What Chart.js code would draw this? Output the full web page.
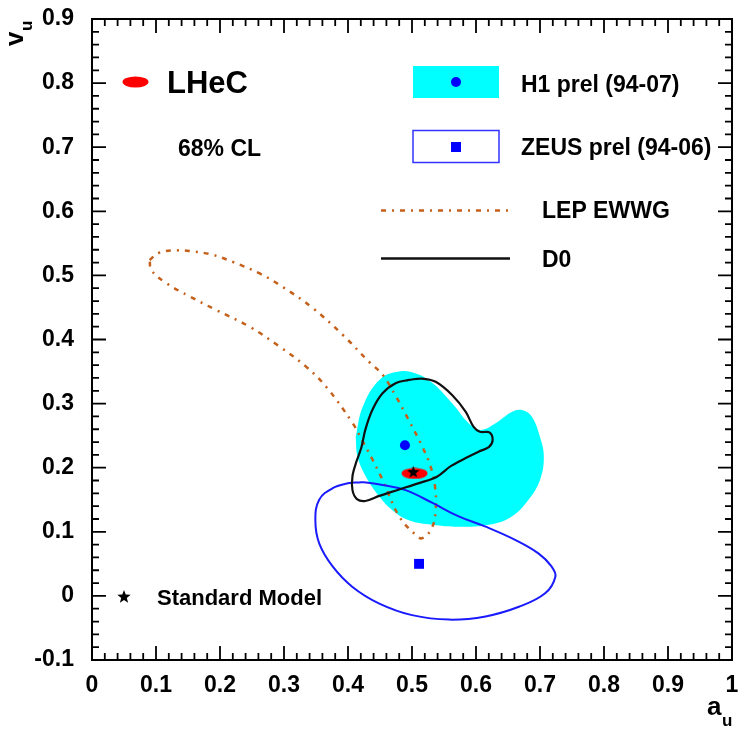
<!DOCTYPE html>
<html>
<head>
<meta charset="utf-8">
<script src="https://cdn.jsdelivr.net/npm/chart.js@4.4.0/dist/chart.umd.min.js"></script>
<style>
  html, body { margin: 0; padding: 0; background: #fff; }
  #wrap { width: 739px; height: 729px; }
</style>
</head>
<body>
<div id="wrap"><canvas id="chart" width="739" height="729"></canvas></div>
<script>
// u-quark couplings a_u / v_u, 68% CL contours

const xTickLabels = ['0', '0.1', '0.2', '0.3', '0.4', '0.5', '0.6', '0.7', '0.8', '0.9', '1'];
const yTickLabels = ['-0.1', '0', '0.1', '0.2', '0.3', '0.4', '0.5', '0.6', '0.7', '0.8', '0.9'];

// [a_u, v_u] along each contour
const h1Contour = [
    [0.412, 0.248], [0.423, 0.295], [0.449, 0.337], [0.480, 0.350], [0.506, 0.347],
    [0.532, 0.332], [0.563, 0.300], [0.589, 0.269], [0.607, 0.259], [0.630, 0.269],
    [0.656, 0.287], [0.672, 0.290], [0.687, 0.280], [0.700, 0.248], [0.706, 0.217],
    [0.700, 0.181], [0.682, 0.150], [0.656, 0.124], [0.620, 0.111], [0.573, 0.108],
    [0.532, 0.111], [0.495, 0.118], [0.469, 0.134], [0.449, 0.155], [0.428, 0.186],
    [0.415, 0.217]
];

const zeusContour = [
    [0.417, 0.177], [0.402, 0.176], [0.376, 0.168], [0.355, 0.150], [0.349, 0.118],
    [0.355, 0.082], [0.376, 0.046], [0.407, 0.014], [0.449, -0.012], [0.500, -0.030],
    [0.558, -0.037], [0.615, -0.032], [0.667, -0.017], [0.708, 0.004], [0.724, 0.030],
    [0.718, 0.046], [0.698, 0.066], [0.662, 0.087], [0.615, 0.108], [0.573, 0.124],
    [0.532, 0.145], [0.490, 0.165], [0.454, 0.173], [0.428, 0.177]
];

const lepContour = [
    [0.090, 0.524], [0.104, 0.535], [0.132, 0.539], [0.160, 0.537], [0.189, 0.532],
    [0.220, 0.521], [0.262, 0.503], [0.298, 0.482], [0.345, 0.449], [0.392, 0.407],
    [0.433, 0.365], [0.454, 0.345], [0.475, 0.311], [0.495, 0.274], [0.516, 0.233],
    [0.529, 0.202], [0.536, 0.170], [0.537, 0.135], [0.531, 0.106], [0.516, 0.090],
    [0.506, 0.095], [0.480, 0.124], [0.454, 0.181], [0.436, 0.217], [0.422, 0.243],
    [0.407, 0.270], [0.366, 0.326], [0.334, 0.358], [0.293, 0.389], [0.246, 0.420],
    [0.194, 0.446], [0.153, 0.467], [0.116, 0.488], [0.093, 0.508]
];

const d0Contour = [
    [0.495, 0.337], [0.515, 0.339], [0.537, 0.334], [0.563, 0.313], [0.584, 0.287],
    [0.596, 0.264], [0.606, 0.256], [0.621, 0.255], [0.626, 0.243], [0.620, 0.232],
    [0.604, 0.225], [0.584, 0.215], [0.560, 0.202], [0.539, 0.186], [0.511, 0.176],
    [0.480, 0.166], [0.449, 0.156], [0.427, 0.148], [0.414, 0.151], [0.407, 0.165],
    [0.407, 0.187], [0.413, 0.209], [0.421, 0.232], [0.427, 0.259], [0.438, 0.290],
    [0.454, 0.316], [0.475, 0.332]
];

const h1Point = [0.489, 0.235];
const zeusPoint = [0.511, 0.050];
const lhecPoint = [0.504, 0.191];
const smPoint = [0.502, 0.194];

const legendLabels = ['H1 prel (94-07)', 'ZEUS prel (94-06)', 'LEP EWWG', 'D0'];

const FONT = '"Liberation Sans", Arial, Helvetica, sans-serif';
const LEP_COLOR = '#c5601a';
const LEP_DASH = [5, 6, 2, 6];

function closed(arr) {
    return arr.concat([arr[0]]).map(([x, y]) => ({ x, y }));
}

function pt(p) {
    return [{ x: p[0], y: p[1] }];
}

function makeEllipse(w, h, color) {
    const c = document.createElement('canvas');
    c.width = w;
    c.height = h;
    const g = c.getContext('2d');
    g.fillStyle = color;
    g.beginPath();
    g.ellipse(w / 2, h / 2, w / 2 - 0.5, h / 2 - 0.5, 0, 0, Math.PI * 2);
    g.fill();
    return c;
}

function starPath(g, cx, cy, r) {
    const ri = r * 0.42;
    g.beginPath();
    for (let i = 0; i < 10; i++) {
        const rad = i % 2 ? ri : r;
        const ang = -Math.PI / 2 + i * Math.PI / 5;
        g.lineTo(cx + rad * Math.cos(ang), cy + rad * Math.sin(ang));
    }
    g.closePath();
}

function makeStar(size, color) {
    const c = document.createElement('canvas');
    c.width = size;
    c.height = size;
    const g = c.getContext('2d');
    starPath(g, size / 2, size / 2 + 0.8, size / 2);
    g.fillStyle = color;
    g.fill();
    return c;
}

const lhecImg = makeEllipse(27, 12, '#ff0000');
const starImg = makeStar(13, '#000000');

// inward ticks on all four sides, frame, legend and axis titles
const framePlugin = {
    id: 'frame',
    afterDraw(chart) {
        const { ctx, chartArea: a, scales: { x, y } } = chart;
        ctx.save();
        ctx.strokeStyle = '#000';
        ctx.lineWidth = 2;
        ctx.strokeRect(a.left, a.top, a.right - a.left, a.bottom - a.top);

        ctx.lineWidth = 1.8;
        ctx.beginPath();
        for (let i = 0; i <= 50; i++) {
            const len = i % 5 === 0 ? 14 : 7;
            const px = x.getPixelForValue(x.min + i * 0.02);
            ctx.moveTo(px, a.bottom);
            ctx.lineTo(px, a.bottom - len);
            ctx.moveTo(px, a.top);
            ctx.lineTo(px, a.top + len);
            const py = y.getPixelForValue(y.min + i * 0.02);
            ctx.moveTo(a.left, py);
            ctx.lineTo(a.left + len, py);
            ctx.moveTo(a.right, py);
            ctx.lineTo(a.right - len, py);
        }
        ctx.stroke();

        // legend, top left
        ctx.fillStyle = '#000';
        ctx.textBaseline = 'alphabetic';
        ctx.textAlign = 'left';
        ctx.drawImage(lhecImg, 135 - 13, 82 - 6, 27, 12);
        ctx.font = 'bold 31px ' + FONT;
        ctx.fillText('LHeC', 167, 93);
        ctx.font = 'bold 23px ' + FONT;
        ctx.fillText('68% CL', 178, 156);

        // legend, top right
        ctx.fillStyle = '#00ffff';
        ctx.fillRect(413, 66, 86, 32);
        ctx.fillStyle = '#0000ff';
        ctx.beginPath();
        ctx.arc(456, 82, 5, 0, Math.PI * 2);
        ctx.fill();

        ctx.strokeStyle = '#3333ff';
        ctx.lineWidth = 1.5;
        ctx.strokeRect(413, 130.5, 86, 32);
        ctx.fillStyle = '#0000ff';
        ctx.fillRect(451, 142, 10, 10);

        ctx.strokeStyle = LEP_COLOR;
        ctx.lineWidth = 2.5;
        ctx.setLineDash(LEP_DASH);
        ctx.beginPath();
        ctx.moveTo(381, 210.5);
        ctx.lineTo(509, 210.5);
        ctx.stroke();
        ctx.setLineDash([]);

        ctx.strokeStyle = '#111';
        ctx.lineWidth = 2.5;
        ctx.beginPath();
        ctx.moveTo(381, 258.5);
        ctx.lineTo(510, 258.5);
        ctx.stroke();

        ctx.fillStyle = '#000';
        ctx.font = 'bold 23px ' + FONT;
        ctx.fillText(legendLabels[0], 521, 92);
        ctx.fillText(legendLabels[1], 521, 155);
        ctx.fillText(legendLabels[2], 542, 218);
        ctx.fillText(legendLabels[3], 542, 267);

        // standard model
        starPath(ctx, 124, 597, 7);
        ctx.fill();
        ctx.font = 'bold 22px ' + FONT;
        ctx.fillText('Standard Model', 157, 605);

        // axis titles
        ctx.font = 'bold 26px ' + FONT;
        ctx.fillText('a', 707, 715);
        ctx.font = 'bold 17px ' + FONT;
        ctx.fillText('u', 722, 726);

        ctx.save();
        ctx.translate(23, 46);
        ctx.rotate(-Math.PI / 2);
        ctx.font = 'bold 26px ' + FONT;
        ctx.fillText('v', 0, 0);
        ctx.font = 'bold 17px ' + FONT;
        ctx.fillText('u', 15, 9);
        ctx.restore();

        ctx.restore();
    }
};

const tickFont = { family: FONT, size: 23, weight: 'bold' };

new Chart(document.getElementById('chart'), {
    type: 'scatter',
    data: {
        datasets: [
            {
                label: 'Standard Model',
                data: pt(smPoint),
                pointStyle: starImg,
                order: 0
            },
            {
                label: 'LHeC',
                data: pt(lhecPoint),
                pointStyle: lhecImg,
                order: 1
            },
            {
                label: 'H1 point',
                data: pt(h1Point),
                pointStyle: 'circle',
                pointRadius: 5,
                backgroundColor: '#0000ff',
                borderWidth: 0,
                order: 2
            },
            {
                label: 'ZEUS point',
                data: pt(zeusPoint),
                pointStyle: 'rect',
                pointRadius: 7,
                backgroundColor: '#0000ff',
                borderWidth: 0,
                order: 3
            },
            {
                label: legendLabels[3],
                data: closed(d0Contour),
                showLine: true,
                borderColor: '#111',
                borderWidth: 2.2,
                pointRadius: 0,
                tension: 0.35,
                fill: false,
                order: 4
            },
            {
                label: legendLabels[1],
                data: closed(zeusContour),
                showLine: true,
                borderColor: '#1a1aff',
                borderWidth: 2,
                pointRadius: 0,
                tension: 0.4,
                fill: false,
                order: 5
            },
            {
                label: legendLabels[2],
                data: closed(lepContour),
                showLine: true,
                borderColor: LEP_COLOR,
                borderWidth: 2.5,
                borderDash: LEP_DASH,
                pointRadius: 0,
                tension: 0.4,
                fill: false,
                order: 6
            },
            {
                label: legendLabels[0],
                data: closed(h1Contour),
                showLine: true,
                borderWidth: 0,
                borderColor: 'rgba(0,0,0,0)',
                backgroundColor: '#00ffff',
                pointRadius: 0,
                tension: 0.4,
                fill: 'shape',
                order: 7
            }
        ]
    },
    options: {
        responsive: false,
        animation: false,
        events: [],
        layout: {
            padding: { left: 0, top: 19, right: 5, bottom: 0 }
        },
        plugins: {
            legend: { display: false },
            tooltip: { enabled: false },
            title: { display: false }
        },
        scales: {
            x: {
                type: 'linear',
                min: 0,
                max: 1,
                grid: { display: false },
                border: { display: false },
                ticks: {
                    stepSize: 0.1,
                    padding: 4,
                    color: '#000',
                    font: tickFont,
                    maxRotation: 0,
                    autoSkip: false,
                    callback: (v, i) => xTickLabels[i]
                },
                afterFit(s) {
                    s.height = 69;
                    s.paddingLeft = 0;
                    s.paddingRight = 0;
                }
            },
            y: {
                type: 'linear',
                min: -0.1,
                max: 0.9,
                grid: { display: false },
                border: { display: false },
                ticks: {
                    stepSize: 0.1,
                    padding: 10,
                    color: '#000',
                    font: tickFont,
                    autoSkip: false,
                    callback: (v, i) => yTickLabels[i]
                },
                afterFit(s) {
                    s.width = 92;
                    s.paddingTop = 0;
                    s.paddingBottom = 0;
                }
            }
        }
    },
    plugins: [framePlugin]
});
</script>
</body>
</html>
